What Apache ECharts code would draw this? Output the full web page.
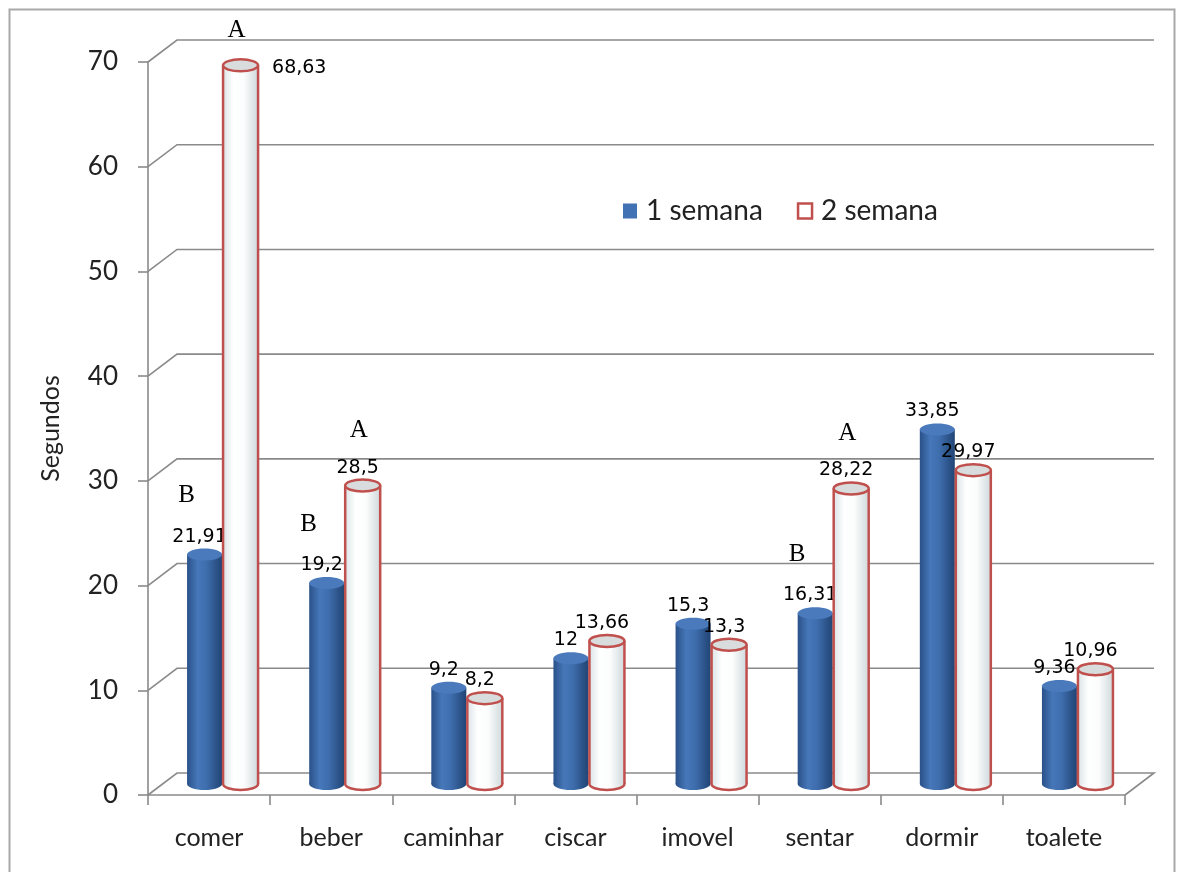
<!DOCTYPE html>
<html>
<head>
<meta charset="utf-8">
<script src="https://cdn.jsdelivr.net/npm/echarts@6/dist/echarts.min.js"></script>
<style>
  html, body { margin: 0; padding: 0; background: #fff; }
  #chart { width: 1179px; height: 872px; }
</style>
</head>
<body>
<div id="chart"></div>
<script>
// Tempo (segundos) por comportamento, 1ª e 2ª semana
const categories = ['comer', 'beber', 'caminhar', 'ciscar', 'imovel', 'sentar', 'dormir', 'toalete'];
const semana1 = [21.91, 19.2, 9.2, 12, 15.3, 16.31, 33.85, 9.36];
const semana2 = [68.63, 28.5, 8.2, 13.66, 13.3, 28.22, 29.97, 10.96];
// letras de significância sobre as colunas
const letras1 = ['B', 'B', '', '', '', 'B', '', ''];
const letras2 = ['A', 'A', '', '', '', 'A', '', ''];
const yTicks = [0, 10, 20, 30, 40, 50, 60, 70];

// profundidade da caixa 3D (deslocamento da parede do fundo)
const DX = 29, DY = -22;
const BAR_W = 35, RY = 6;
const TOP_Y = 62;

const fmt = v => String(v).replace('.', ',');
const LABEL_FONT = '19px "DejaVu Sans"';
const LETTER_FONT = '25px "Liberation Serif"';

const blueBody = new echarts.graphic.LinearGradient(0, 0, 1, 0, [
  { offset: 0, color: '#2a5189' },
  { offset: 0.3, color: '#4677b8' },
  { offset: 0.55, color: '#3f6eae' },
  { offset: 1, color: '#214474' }
]);
const whiteBody = new echarts.graphic.LinearGradient(0, 0, 1, 0, [
  { offset: 0, color: '#dbe4e7' },
  { offset: 0.3, color: '#ffffff' },
  { offset: 0.6, color: '#fbfcfc' },
  { offset: 1, color: '#cfd9dc' }
]);

function cylinder(kind, offset, letters) {
  return function (params, api) {
    const i = api.value(0), v = api.value(1);
    const top = api.coord([i, v]);
    const base = api.coord([i, 0]);
    const cx = top[0] + DX / 2 + offset;
    const yt = top[1] + DY / 2;
    const yb = base[1] + DY / 2;
    const rx = BAR_W / 2;
    const children = [];
    if (kind === 'blue') {
      children.push(
        { type: 'ellipse', shape: { cx: cx, cy: yb, rx: rx, ry: RY }, style: { fill: blueBody } },
        { type: 'rect', shape: { x: cx - rx, y: yt, width: BAR_W, height: yb - yt }, style: { fill: blueBody } },
        { type: 'ellipse', shape: { cx: cx, cy: yt, rx: rx, ry: RY }, style: { fill: '#4a7abb' } }
      );
    } else {
      const red = '#c0504d';
      children.push(
        { type: 'ellipse', shape: { cx: cx, cy: yb, rx: rx, ry: RY }, style: { fill: whiteBody, stroke: red, lineWidth: 2.5 } },
        { type: 'rect', shape: { x: cx - rx, y: yt, width: BAR_W, height: yb - yt }, style: { fill: whiteBody } },
        { type: 'line', shape: { x1: cx - rx, y1: yt, x2: cx - rx, y2: yb }, style: { stroke: red, lineWidth: 2.5 } },
        { type: 'line', shape: { x1: cx + rx, y1: yt, x2: cx + rx, y2: yb }, style: { stroke: red, lineWidth: 2.5 } },
        { type: 'ellipse', shape: { cx: cx, cy: yt, rx: rx, ry: RY }, style: { fill: '#d9dcdc', stroke: red, lineWidth: 2.5 } }
      );
    }
    // rótulo de valor: acima do topo, ou ao lado quando não cabe
    const sideLabel = yt - 18 < TOP_Y;
    if (sideLabel) {
      children.push({ type: 'text', style: { text: fmt(v), x: cx + rx + 14, y: yt + 3, fill: '#000', font: LABEL_FONT, align: 'left', verticalAlign: 'middle' } });
    } else {
      children.push({ type: 'text', style: { text: fmt(v), x: cx - 5, y: yt - 18, fill: '#000', font: LABEL_FONT, align: 'center', verticalAlign: 'middle' } });
    }
    const letter = letters[params.dataIndex];
    if (letter) {
      const lx = kind === 'blue' ? cx - 18 : cx - 4;
      const ly = sideLabel ? yt - 35 : yt - (kind === 'blue' ? 59 : 55);
      children.push({ type: 'text', style: { text: letter, x: lx, y: ly, fill: '#000', font: LETTER_FONT, align: 'center', verticalAlign: 'middle' } });
    }
    return { type: 'group', children: children };
  };
}

function wallLines(params, api) {
  const t = api.value(1);
  const cs = params.coordSys;
  const y = api.coord([0, t])[1];
  const x0 = cs.x, x1 = cs.x + cs.width;
  const pts = [[x0, y], [x0 + DX, y + DY], [x1 + DX, y + DY]];
  if (t === 0) pts.push([x1, y]);
  return { type: 'polyline', shape: { points: pts }, style: { stroke: '#8a8a8a', lineWidth: 1.6, fill: null } };
}

const chart = echarts.init(document.getElementById('chart'), null, { renderer: 'canvas' });
chart.setOption({
  backgroundColor: '#ffffff',
  animation: false,
  graphic: [{
    type: 'rect', left: 7, top: 7, shape: { width: 1165, height: 900 },
    style: { fill: null, stroke: '#a9a9a9', lineWidth: 2 }, silent: true
  }],
  legend: {
    left: 618, top: 192,
    itemWidth: 14, itemHeight: 15, itemGap: 34,
    icon: 'rect',
    textStyle: { fontFamily: 'Lato', fontSize: 28, color: '#222', padding: [0, 0, 0, 4] },
    data: [
      { name: '1 semana', itemStyle: { color: '#4172b4' } },
      { name: '2 semana', itemStyle: { color: '#ffffff', borderColor: '#c0504d', borderWidth: 2.5 } }
    ]
  },
  grid: { left: 148, top: TOP_Y, width: 977, height: 733 },
  xAxis: {
    type: 'category', data: categories, boundaryGap: true,
    axisLine: { lineStyle: { color: '#8a8a8a', width: 1.6 } },
    axisTick: { show: true, interval: 0, length: 10, lineStyle: { color: '#8a8a8a', width: 1.6 } },
    axisLabel: { interval: 0, fontFamily: 'Lato', fontSize: 25, color: '#222', margin: 30 }
  },
  yAxis: {
    type: 'value', min: 0, max: 70, interval: 10,
    name: 'Segundos', nameLocation: 'middle', nameRotate: 90, nameGap: 85,
    nameTextStyle: { fontFamily: 'Lato', fontSize: 25, color: '#222' },
    axisLine: { show: true, lineStyle: { color: '#8a8a8a', width: 1.6 } },
    axisTick: { show: true, length: 10, lineStyle: { color: '#8a8a8a', width: 1.6 } },
    axisLabel: { fontFamily: 'Lato', fontSize: 26, color: '#222', margin: 30 },
    splitLine: { show: false }
  },
  series: [
    {
      type: 'custom', name: 'grade', z: 1, silent: true,
      renderItem: wallLines,
      data: yTicks.map(t => [0, t]),
      encode: { x: 0, y: 1 }
    },
    {
      type: 'custom', name: '1 semana', z: 3,
      itemStyle: { color: '#4172b4' },
      renderItem: cylinder('blue', -19, letras1),
      data: semana1.map((v, i) => [i, v]),
      encode: { x: 0, y: 1 }
    },
    {
      type: 'custom', name: '2 semana', z: 4,
      itemStyle: { color: '#ffffff', borderColor: '#c0504d', borderWidth: 2.5 },
      renderItem: cylinder('white', 17, letras2),
      data: semana2.map((v, i) => [i, v]),
      encode: { x: 0, y: 1 }
    }
  ]
});
</script>
</body>
</html>
